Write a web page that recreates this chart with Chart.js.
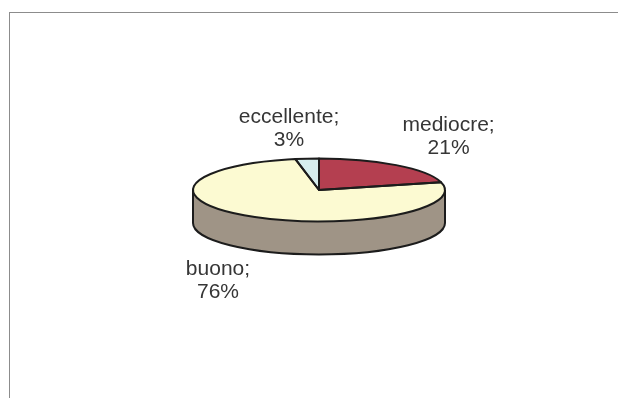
<!DOCTYPE html>
<html>
<head>
<meta charset="utf-8">
<script src="https://cdn.jsdelivr.net/npm/chart.js"></script>
<style>
  html, body { margin: 0; padding: 0; background: #fff; overflow: hidden; }
  .frame { position: absolute; left: 9px; top: 12px; width: 700px; height: 500px; border: 1px solid #8c8c8c; }
  .wrap { position: absolute; left: 0; top: 0; width: 618px; height: 398px; }
</style>
</head>
<body>
<div class="frame"></div>
<div class="wrap"><canvas class="pie-chart" width="618" height="398"></canvas></div>
<script>
const giudizi = ['mediocre', 'buono', 'eccellente']; // categorie
const percentuali = [21, 76, 3]; // valori in %
const colori = ['#b43f50', '#fcfad2', '#d6eeee'];

const pieCanvas = document.querySelector('.pie-chart');

const tilt = 0.25;      // schiacciamento verticale della torta
const depth = 33;       // spessore del bordo laterale
const sideColor = '#9f9486';
const lineColor = '#1c1c1c';

// posizione delle etichette rispetto al centro
const labelNudge = [[6, -9], [7, -1], [-11, -4]];

function slicePath(ctx, arc) {
  ctx.beginPath();
  ctx.moveTo(arc.x, arc.y);
  ctx.ellipse(arc.x, arc.y, arc.outerRadius, arc.outerRadius * tilt, 0, arc.startAngle, arc.endAngle);
  ctx.closePath();
}

const pie3d = {
  id: 'pie3d',
  beforeDatasetsDraw(chart) {
    const ctx = chart.ctx;
    const arcs = chart.getDatasetMeta(0).data;

    // lato visibile (meta davanti)
    arcs.forEach(arc => {
      const a = Math.max(arc.startAngle, 0);
      const b = Math.min(arc.endAngle, Math.PI);
      if (b <= a) return;
      const r = arc.outerRadius;
      ctx.beginPath();
      ctx.ellipse(arc.x, arc.y + depth, r, r * tilt, 0, a, b);
      ctx.ellipse(arc.x, arc.y, r, r * tilt, 0, b, a, true);
      ctx.closePath();
      ctx.fillStyle = sideColor;
      ctx.fill();
    });

    // la faccia sopra viene disegnata da Chart.js, schiacciata
    const c = arcs[0];
    ctx.save();
    ctx.translate(c.x, c.y);
    ctx.scale(1, tilt);
    ctx.translate(-c.x, -c.y);
  },
  afterDatasetsDraw(chart) {
    const ctx = chart.ctx;
    ctx.restore();
    const arcs = chart.getDatasetMeta(0).data;
    const c = arcs[0];
    const r = c.outerRadius;

    ctx.save();
    ctx.strokeStyle = lineColor;
    ctx.lineWidth = 2;
    ctx.lineJoin = 'round';

    // contorno del lato
    ctx.beginPath();
    ctx.moveTo(c.x - r, c.y);
    ctx.lineTo(c.x - r, c.y + depth);
    ctx.stroke();
    ctx.beginPath();
    ctx.moveTo(c.x + r, c.y);
    ctx.lineTo(c.x + r, c.y + depth);
    ctx.stroke();
    ctx.beginPath();
    ctx.ellipse(c.x, c.y + depth, r, r * tilt, 0, 0, Math.PI);
    ctx.stroke();

    // contorno delle fette
    arcs.forEach(arc => {
      slicePath(ctx, arc);
      ctx.stroke();
    });

    // etichette "nome; valore%"
    ctx.fillStyle = '#363636';
    ctx.font = '21px "Liberation Sans", Arial, sans-serif';
    ctx.textAlign = 'center';
    ctx.textBaseline = 'alphabetic';
    arcs.forEach((arc, i) => {
      const mid = (arc.startAngle + arc.endAngle) / 2;
      const front = Math.sin(mid) > 0 ? depth : 0;
      const x = arc.x + Math.cos(mid) * r * 1.6 + labelNudge[i][0];
      const y = arc.y + Math.sin(mid) * r * tilt * 2 + front + labelNudge[i][1];
      ctx.fillText(giudizi[i] + ';', x, y);
      ctx.fillText(percentuali[i] + '%', x, y + 23);
    });
    ctx.restore();
  }
};

new Chart(pieCanvas, {
  type: 'pie',
  data: {
    labels: giudizi,
    datasets: [{
      data: percentuali,
      backgroundColor: colori,
      borderWidth: 0,
      clip: false
    }]
  },
  options: {
    responsive: false,
    animation: false,
    events: [],
    layout: { padding: { left: 193, right: 173, top: 64, bottom: 82 } },
    plugins: {
      legend: { display: false },
      tooltip: { enabled: false }
    }
  },
  plugins: [pie3d]
});
</script>
</body>
</html>
